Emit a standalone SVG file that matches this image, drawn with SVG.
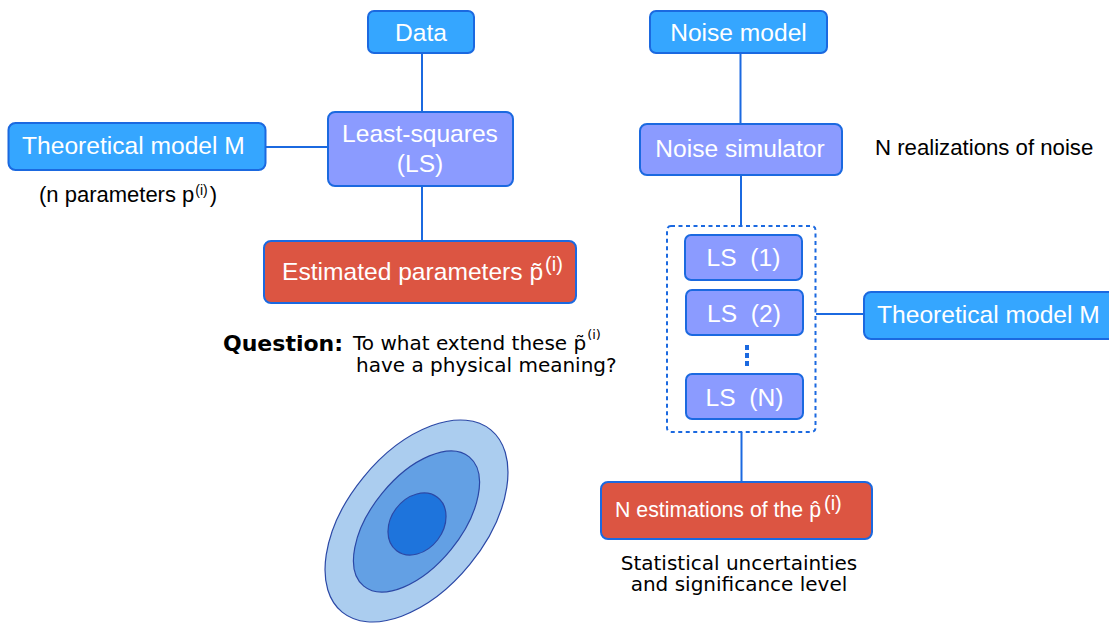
<svg xmlns="http://www.w3.org/2000/svg" width="1109" height="624" viewBox="0 0 1109 624">
<style>
.box{stroke:#1b69e0;stroke-width:2}
.blue{fill:#35a6ff}
.purple{fill:#8b9bff}
.red{fill:#dc5542}
.bt{font-family:"Liberation Sans",Arial,sans-serif;font-size:24.6px;fill:#ffffff}
.c{text-anchor:middle}
.lab{font-family:"Liberation Sans",Arial,sans-serif;fill:#000000}
.dj{font-family:"DejaVu Sans",sans-serif;fill:#000000}
.conn{stroke:#1b69e0;stroke-width:2;fill:none}
.ell{stroke:#2b48a6;stroke-width:1.2}
</style>
<rect width="1109" height="624" fill="#ffffff"/>

<g id="connectors">
  <line class="conn" x1="422" y1="53" x2="422" y2="112"/>
  <line class="conn" x1="266" y1="147" x2="329" y2="147"/>
  <line class="conn" x1="422" y1="186" x2="422" y2="241"/>
  <line class="conn" x1="740.5" y1="53" x2="740.5" y2="124"/>
  <line class="conn" x1="741" y1="175" x2="741" y2="226"/>
  <line class="conn" x1="816" y1="314" x2="863" y2="314"/>
  <line class="conn" x1="741.5" y1="432" x2="741.5" y2="482"/>
</g>

<g id="data">
  <rect class="box blue" x="368" y="11" width="106" height="42" rx="6"/>
  <text class="bt c" x="421" y="41">Data</text>
</g>

<g id="noise-model">
  <rect class="box blue" x="650" y="11" width="177" height="42" rx="6"/>
  <text class="bt c" x="738.5" y="41">Noise model</text>
</g>

<g id="least-squares">
  <rect class="box purple" x="328" y="112" width="185" height="74" rx="7"/>
  <text class="bt c" x="420" y="142">Least-squares<tspan x="420" y="172">(LS)</tspan></text>
</g>

<g id="theoretical-model-left">
  <rect class="box blue" x="8.5" y="123" width="257" height="47" rx="7"/>
  <text class="bt" x="22" y="154">Theoretical model M</text>
</g>

<g id="n-parameters">
  <text class="lab" font-size="22" x="39" y="202">(n parameters p<tspan font-size="14" dy="-7" dx="1">(i)</tspan><tspan dy="7" dx="2">)</tspan></text>
</g>

<g id="estimated-parameters">
  <rect class="box red" x="264" y="241" width="312" height="62" rx="7"/>
  <text class="bt" x="282" y="280">Estimated parameters p&#x303;<tspan font-size="20" dy="-9" dx="2">(i)</tspan></text>
</g>

<g id="question">
  <text class="dj" font-size="22" font-weight="bold" x="223" y="351">Question:</text>
  <text class="dj" font-size="20" x="353" y="350">To what extend these p&#x303;<tspan font-size="13" dy="-11" dx="1">(i)</tspan><tspan x="356" y="372">have a physical meaning?</tspan></text>
</g>

<g id="noise-simulator">
  <rect class="box purple" x="640" y="124" width="202" height="51" rx="7"/>
  <text class="bt c" x="740" y="157">Noise simulator</text>
</g>

<g id="n-realizations">
  <text class="lab" font-size="22.2" x="875" y="155">N realizations of noise</text>
</g>

<g id="ls-container">
  <rect x="667" y="226" width="148.5" height="206" rx="4" fill="none" stroke="#1b69e0" stroke-width="2" stroke-dasharray="4,3.5"/>
</g>

<g id="ls-1">
  <rect class="box purple" x="685" y="235" width="117" height="45" rx="6"/>
  <text class="bt c" x="743.5" y="266" xml:space="preserve">LS  (1)</text>
</g>

<g id="ls-2">
  <rect class="box purple" x="686" y="290" width="117" height="45" rx="6"/>
  <text class="bt c" x="744" y="322" xml:space="preserve">LS  (2)</text>
</g>

<g id="ls-dots">
  <line x1="747" y1="345" x2="747" y2="366" stroke="#1b69e0" stroke-width="4" stroke-dasharray="5,3"/>
</g>

<g id="ls-n">
  <rect class="box purple" x="686" y="374" width="117" height="45" rx="6"/>
  <text class="bt c" x="744.5" y="406" xml:space="preserve">LS  (N)</text>
</g>

<g id="theoretical-model-right">
  <rect class="box blue" x="864" y="292" width="260" height="47" rx="7"/>
  <text class="bt" x="877" y="323">Theoretical model M</text>
</g>

<g id="n-estimations">
  <rect class="box red" x="601" y="482" width="271" height="57" rx="7"/>
  <text class="bt" style="font-size:21.3px" x="615" y="517">N estimations of the p&#x302;<tspan font-size="20" dy="-7" dx="3">(i)</tspan></text>
</g>

<g id="statistical">
  <text class="dj" font-size="20" text-anchor="middle" x="739" y="570">Statistical uncertainties<tspan x="739" y="591">and significance level</tspan></text>
</g>

<g id="ellipses">
  <ellipse class="ell" fill="#abcdef" cx="416.5" cy="521" rx="117.6" ry="68.8" transform="rotate(-50.8 416.5 521)"/>
  <ellipse class="ell" fill="#63a0e4" cx="416.5" cy="521.5" rx="83.4" ry="44.5" transform="rotate(-50.8 416.5 521.5)"/>
  <ellipse class="ell" fill="#1e74dc" cx="417" cy="524" rx="33.6" ry="26" transform="rotate(-52.7 417 524)"/>
</g>
</svg>
